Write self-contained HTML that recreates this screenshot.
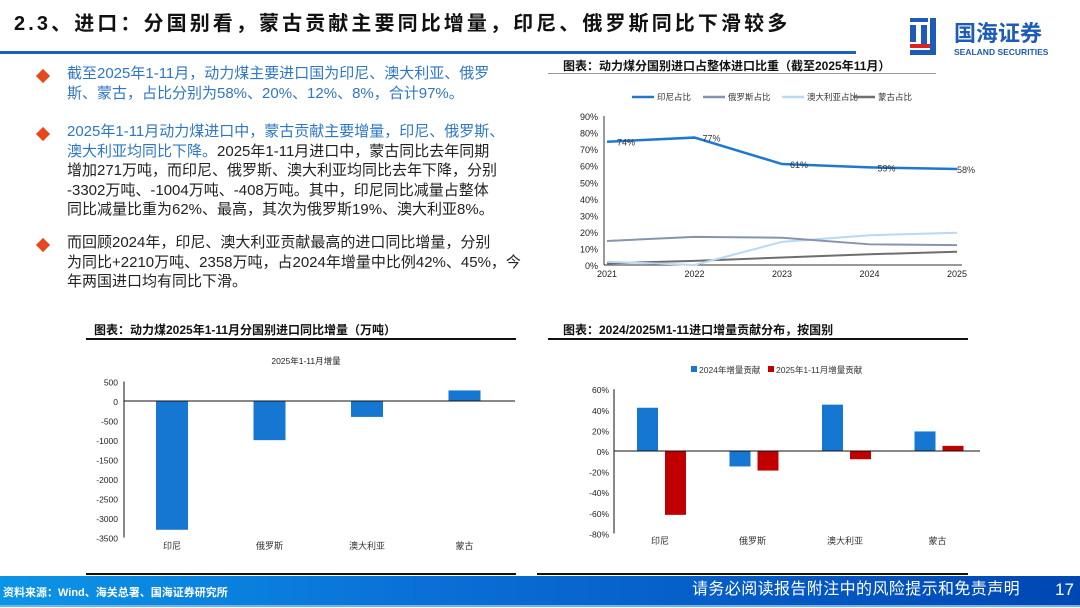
<!DOCTYPE html>
<html><head><meta charset="utf-8"><style>
*{margin:0;padding:0;box-sizing:border-box}
body{width:1080px;height:608px;position:relative;background:#fff;font-family:"Liberation Sans","Noto Sans CJK SC",sans-serif;overflow:hidden}
.abs{position:absolute}
.title{left:14px;top:7px;font-size:20px;font-weight:bold;letter-spacing:3.1px;color:#111;white-space:nowrap}
.rule{left:0;top:51px;width:856px;height:3px;background:#1f5fbf}
.bul{position:absolute;left:38px;width:10px;height:10px;background:#e8461c;transform:rotate(45deg)}
.para{position:absolute;left:67px;width:480px;font-size:15px;line-height:19.5px;color:#222;white-space:nowrap;letter-spacing:0px}
.blue{color:#2e77c6}
.ct{font-size:12px;font-weight:bold;color:#111}
.hl{height:2px;background:#111}
svg text{font-family:"Liberation Sans","Noto Sans CJK SC",sans-serif}
.footer{left:0;top:576px;width:1080px;height:31px;background:linear-gradient(90deg,#0b95e6,#0a6fd6 40%,#0047b3 100%);border-bottom:2px solid #6fb3ee}
</style></head><body>
<div class="abs title">2.3、进口：分国别看，蒙古贡献主要同比增量，印尼、俄罗斯同比下滑较多</div>
<div class="abs rule"></div>
<div class="abs" style="left:908px;top:16px;width:165px;height:44px">
<svg width="165" height="44"><rect x="2" y="2" width="18" height="4" fill="#1e5bb8"/><rect x="2" y="9" width="6" height="17" fill="#1e5bb8"/><rect x="13" y="9" width="6" height="19" fill="#1e5bb8"/><rect x="2" y="28" width="20" height="4" fill="#d22"/><rect x="2" y="34" width="20" height="5" fill="#1e5bb8"/><rect x="22" y="2" width="6" height="37" fill="#1e5bb8"/>
<text x="46" y="25" font-size="22" font-weight="bold" fill="#1e5bb8">国海证券</text>
<text x="46" y="39" font-size="8.5" font-weight="bold" fill="#1e5bb8">SEALAND SECURITIES</text></svg></div>

<div class="bul" style="top:71px"></div>
<div class="para blue" style="top:64px">截至2025年1-11月，动力煤主要进口国为印尼、澳大利亚、俄罗<br>斯、蒙古，占比分别为58%、20%、12%、8%，合计97%。</div>
<div class="bul" style="top:129px"></div>
<div class="para" style="top:122px"><span class="blue">2025年1-11月动力煤进口中，蒙古贡献主要增量，印尼、俄罗斯、<br>澳大利亚均同比下降。</span>2025年1-11月进口中，蒙古同比去年同期<br>增加271万吨，而印尼、俄罗斯、澳大利亚均同比去年下降，分别<br>-3302万吨、-1004万吨、-408万吨。其中，印尼同比减量占整体<br>同比减量比重为62%、最高，其次为俄罗斯19%、澳大利亚8%。</div>
<div class="bul" style="top:240px"></div>
<div class="para" style="top:233px">而回顾2024年，印尼、澳大利亚贡献最高的进口同比增量，分别<br>为同比+2210万吨、2358万吨，占2024年增量中比例42%、45%，今<br>年两国进口均有同比下滑。</div>

<div class="abs ct" style="left:563px;top:57px">图表：动力煤分国别进口占整体进口比重（截至2025年11月）</div>
<div class="abs hl" style="left:548px;top:73px;width:388px;height:1px;background:#999"></div>
<div class="abs ct" style="left:94px;top:321px">图表：动力煤2025年1-11月分国别进口同比增量（万吨）</div>
<div class="abs hl" style="left:86px;top:338px;width:430px"></div>
<div class="abs hl" style="left:86px;top:573px;width:430px"></div>
<div class="abs ct" style="left:563px;top:321px">图表：2024/2025M1-11进口增量贡献分布，按国别</div>
<div class="abs hl" style="left:548px;top:338px;width:420px"></div>
<div class="abs hl" style="left:537px;top:573px;width:431px"></div>

<svg class="abs" id="c1" style="left:0;top:0" width="1080" height="608"></svg>

<div class="abs footer">
<span class="abs" style="left:3px;top:8px;font-size:11px;font-weight:bold;color:#fff">资料来源：Wind、海关总署、国海证券研究所</span>
<span class="abs" style="left:692px;top:4px;font-size:16px;letter-spacing:0.4px;line-height:20px;color:#fff">请务必阅读报告附注中的风险提示和免责声明</span>
<span class="abs" style="left:1055px;top:4px;font-size:17px;line-height:20px;color:#fff">17</span>
</div>

<script>
const years=["2021","2022","2023","2024","2025"];
const indo=[74.5,77,61,59,58];
const russia=[14.5,17,16.5,12.5,12];
const aus=[2,0,14,18,19.5];
const mong=[1,2.5,4.5,6.5,8];
const indoLabels=["74%","77%","61%","59%","58%"];
const yTicks1=[0,10,20,30,40,50,60,70,80,90];

const cats=["印尼","俄罗斯","澳大利亚","蒙古"];
const incr=[-3302,-1004,-408,271];
const yTicks2=[500,0,-500,-1000,-1500,-2000,-2500,-3000,-3500];

const contrib2024=[42,-15,45,19];
const contrib2025=[-62,-19,-8,5];
const yTicks3=[60,40,20,0,-20,-40,-60,-80];

const svg=document.getElementById('c1');
const NS='http://www.w3.org/2000/svg';
function mk(tag,attrs,txt){const e=document.createElementNS(NS,tag);for(const k in attrs)e.setAttribute(k,attrs[k]);if(txt!==undefined)e.textContent=txt;svg.appendChild(e);return e;}

// chart 1
const x1=i=>607+i*87.5, y1=v=>265-v*1.655;
yTicks1.forEach(t=>{const e=mk('text',{x:598,y:y1(t)+4,'font-size':9,'text-anchor':'end',fill:'#222'},t+'%');

});
mk('line',{x1:604,y1:y1(90),x2:604,y2:265,stroke:'#333','stroke-width':1});
mk('line',{x1:604,y1:265,x2:962,y2:265,stroke:'#333','stroke-width':1});
years.forEach((yr,i)=>{const e=mk('text',{x:x1(i),y:277,'font-size':9,'text-anchor':'middle',fill:'#222'},yr);

});
const series=[[mong,'#6e6e6e',2,'mongolia-line'],[aus,'#b8d8f5',2,'australia-line'],[russia,'#8496ad',2,'russia-line'],[indo,'#1e78d2',2.5,'indonesia-line']];
series.forEach(s=>{const e=mk('polyline',{points:s[0].map((v,i)=>x1(i)+','+y1(v)).join(' '),fill:'none',stroke:s[1],'stroke-width':s[2]});

});
indo.forEach((v,i)=>{const e=mk('text',{x:x1(i)+(i==0?10:i==4?0:8),y:y1(v)+4,'font-size':9,fill:'#333'},indoLabels[i]);

});
const leg1=[['印尼占比','#1e78d2',632],['俄罗斯占比','#8496ad',703],['澳大利亚占比','#b8d8f5',782],['蒙古占比','#6e6e6e',853]];
leg1.forEach(l=>{mk('line',{x1:l[2],y1:97,x2:l[2]+22,y2:97,stroke:l[1],'stroke-width':2.5});
const e=mk('text',{x:l[2]+25,y:100,'font-size':8.5,fill:'#333'},l[0]);

});

// chart 2
const x2=i=>172+i*97.5, y2=v=>401-v*0.039;
const st=mk('text',{x:306,y:364,'font-size':8.5,'text-anchor':'middle',fill:'#222'},'2025年1-11月增量');


yTicks2.forEach(t=>{const e=mk('text',{x:118,y:y2(t)+4,'font-size':8.5,'text-anchor':'end',fill:'#222'},t);

});
incr.forEach((v,i)=>{const e=mk('rect',{x:x2(i)-16,y:Math.min(y2(v),y2(0)),width:32,height:Math.abs(y2(v)-y2(0)),fill:'#1677d2'});

});
mk('line',{x1:124,y1:y2(500),x2:124,y2:y2(-3500),stroke:'#111','stroke-width':1});
mk('line',{x1:124,y1:y2(0),x2:515,y2:y2(0),stroke:'#111','stroke-width':1});
cats.forEach((c,i)=>{const e=mk('text',{x:x2(i),y:549,'font-size':9,'text-anchor':'middle',fill:'#333'},c);

});

// chart 3
const x3=i=>662+i*92.5, y3=v=>451-v*1.03;
yTicks3.forEach(t=>{const e=mk('text',{x:609,y:y3(t)+4,'font-size':8.5,'text-anchor':'end',fill:'#222'},t+'%');

});
contrib2024.forEach((v,i)=>{const e=mk('rect',{x:x3(i)-25,y:Math.min(y3(v),y3(0)),width:21,height:Math.abs(y3(v)-y3(0)),fill:'#1677d2'});

});
contrib2025.forEach((v,i)=>{const e=mk('rect',{x:x3(i)+3,y:Math.min(y3(v),y3(0)),width:21,height:Math.abs(y3(v)-y3(0)),fill:'#c00000'});

});
mk('line',{x1:614,y1:y3(60),x2:614,y2:y3(-80),stroke:'#111','stroke-width':1});
mk('line',{x1:614,y1:y3(0),x2:980,y2:y3(0),stroke:'#111','stroke-width':1});
cats.forEach((c,i)=>{const e=mk('text',{x:x3(i)-2,y:544,'font-size':9,'text-anchor':'middle',fill:'#333'},c);

});
[['2024年增量贡献','#1677d2',691],['2025年1-11月增量贡献','#c00000',768]].forEach(l=>{mk('rect',{x:l[2],y:366,width:6,height:6,fill:l[1]});
const e=mk('text',{x:l[2]+8,y:373,'font-size':8.5,fill:'#333'},l[0]);

});
</script>
</body></html>
